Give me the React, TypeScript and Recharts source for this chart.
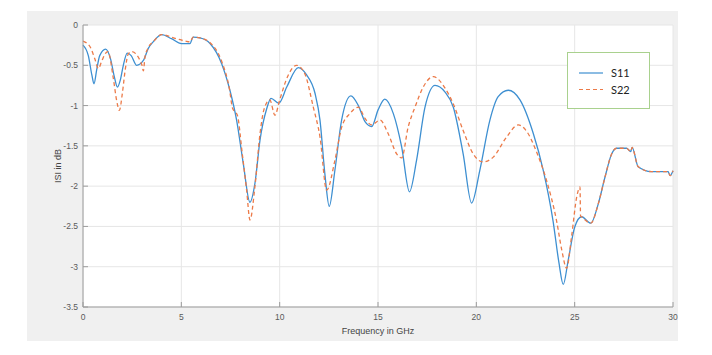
import { LineChart, Line, XAxis, YAxis, CartesianGrid, Legend } from 'recharts';

// S11 trace (frequency GHz / |S| dB)
const s11Freq = [
  0, 0.27, 0.45, 0.56, 0.7, 0.85, 1.15, 1.4, 1.6, 1.75, 1.9, 2.05, 2.25, 2.45, 2.73, 3.07, 3.32, 3.6, 4.0, 4.5,
  5.0, 5.44, 5.6, 5.95, 6.46, 7.05, 7.47, 7.81, 8.15, 8.49, 8.74, 9.0, 9.34, 9.56, 9.96, 10.36, 10.95, 11.37, 11.8,
  12.05, 12.3, 12.52, 12.81, 13.15, 13.62, 14.0, 14.34, 14.68, 15.01, 15.35, 15.78, 16.2, 16.6, 16.96, 17.39, 17.9,
  18.4, 18.83, 19.33, 19.76, 20.18, 20.69, 21.11, 21.62, 22.22, 22.9, 23.4, 23.9, 24.2, 24.42, 24.67, 25.0, 25.35,
  25.82, 26.2, 26.54, 26.88, 27.13, 27.64, 27.85, 27.92, 28.23, 28.9, 29.75, 29.85, 30,
];
const s11Db = [
  -0.25, -0.38, -0.62, -0.73, -0.55, -0.38, -0.3, -0.42, -0.65, -0.77, -0.68, -0.5, -0.35, -0.38, -0.5, -0.44, -0.29, -0.2, -0.12, -0.17,
  -0.23, -0.23, -0.15, -0.16, -0.23, -0.48, -0.81, -1.18, -1.72, -2.2, -1.97, -1.43, -1.04, -0.91, -0.97, -0.77, -0.53, -0.62, -0.85,
  -1.18, -1.85, -2.25, -1.8, -1.18, -0.88, -1.0, -1.2, -1.26, -1.05, -0.92, -1.1, -1.51, -2.07, -1.68, -1.02, -0.75,
  -0.83, -1.02, -1.6, -2.21, -1.8, -1.18, -0.89, -0.81, -0.93, -1.35, -1.8, -2.43, -2.95, -3.22, -2.92, -2.51, -2.38,
  -2.46, -2.22, -1.89, -1.6, -1.53, -1.53, -1.57, -1.52, -1.76, -1.82, -1.82, -1.87, -1.81,
];

// S22 trace
const s22Freq = [
  0, 0.36, 0.6, 0.78, 0.95, 1.12, 1.27, 1.54, 1.72, 1.85, 2.0, 2.15, 2.3, 2.47, 2.9, 3.0, 3.07, 3.15, 3.3, 3.6, 4.0,
  4.74, 5.2, 5.44, 5.6, 5.95, 6.46, 7.05, 7.45, 7.6, 7.85, 8.1, 8.32, 8.49, 8.74, 9.0, 9.2, 9.5, 9.76, 10.0, 10.44,
  10.86, 11.27, 11.71, 12.05, 12.39, 12.81, 13.15, 13.57, 14.0, 14.34, 14.68, 15.1, 15.52, 15.95, 16.2, 16.54, 16.88,
  17.3, 17.81, 18.4, 18.83, 19.33, 19.84, 20.35, 20.86, 21.54, 22.13, 22.56, 23.07, 23.57, 24.08, 24.35, 24.59, 24.84,
  25.1, 25.27, 25.3, 25.35, 25.82, 26.2, 26.54, 26.88, 27.13, 27.64, 27.85, 27.92, 28.23, 28.9, 29.75, 29.85, 30,
];
const s22Db = [
  -0.2, -0.27, -0.42, -0.54, -0.45, -0.36, -0.33, -0.66, -0.95, -1.06, -0.85, -0.55, -0.36, -0.33, -0.44, -0.5, -0.57, -0.4, -0.29, -0.2, -0.12,
  -0.17, -0.2, -0.21, -0.15, -0.16, -0.22, -0.45, -0.8, -1.03, -1.12, -1.6, -2.05, -2.42, -2.01, -1.35, -1.05, -0.93, -1.12, -0.93, -0.62,
  -0.5, -0.6, -1.02, -1.39, -2.05, -1.68, -1.27, -1.1, -1.02, -1.16, -1.24, -1.18, -1.35, -1.6, -1.65, -1.26, -1.02,
  -0.77, -0.64, -0.78, -0.98, -1.31, -1.6, -1.7, -1.64, -1.39, -1.24, -1.32, -1.58, -1.93, -2.43, -2.8, -3.02, -2.63,
  -2.14, -2.01, -2.37, -2.38, -2.46, -2.22, -1.89, -1.6, -1.53, -1.53, -1.57, -1.52, -1.76, -1.82, -1.82, -1.87, -1.81,
];

const xTicks = [0, 5, 10, 15, 20, 25, 30];
const yTicks = [0, -0.5, -1, -1.5, -2, -2.5, -3, -3.5];

const s11Data = s11Freq.map((f, i) => ({ f, v: s11Db[i] }));
const s22Data = s22Freq.map((f, i) => ({ f, v: s22Db[i] }));

const BLUE = '#3d8fd1';
const ORANGE = '#ec7a48';
const AXIS = '#9c9c9c';
const TICK_TEXT = '#5a5a5a';
const FONT = '"Liberation Sans", Arial, sans-serif';

const LeftTick = (props: any) => {
  const { x, y, payload } = props;
  return (
    <g>
      <line x1={x + 5} x2={x + 10} y1={y} y2={y} stroke={AXIS} />
      <text x={x} y={y} dy={3} textAnchor="end" fontSize={8.5} fill={TICK_TEXT} fontFamily={FONT}>
        {payload.value}
      </text>
    </g>
  );
};

const BottomTick = (props: any) => {
  const { x, y, payload } = props;
  return (
    <g>
      <line x1={x} x2={x} y1={y - 7} y2={y - 12} stroke={AXIS} />
      <text x={x} y={y} dy="0.71em" textAnchor="middle" fontSize={8.5} fill={TICK_TEXT} fontFamily={FONT}>
        {payload.value}
      </text>
    </g>
  );
};

const TopTick = (props: any) => {
  const { x, y } = props;
  return <line x1={x} x2={x} y1={y} y2={y + 5} stroke={AXIS} />;
};

const RightTick = (props: any) => {
  const { x, y } = props;
  return <line x1={x - 5} x2={x} y1={y} y2={y} stroke={AXIS} />;
};

const LegendBox = (props: any) => {
  const { payload = [] } = props;
  return (
    <svg width={83} height={57} style={{ display: 'block' }}>
      <rect x={0.5} y={0.5} width={82} height={56} fill="#fff" stroke="#a9d18e" />
      {payload.map((entry: any, i: number) => (
        <g key={entry.value}>
          <line
            x1={12}
            x2={36}
            y1={21 + i * 16.5}
            y2={21 + i * 16.5}
            stroke={entry.color}
            strokeWidth={1.2}
            strokeDasharray={i === 1 ? '4 3' : undefined}
          />
          <text x={44} y={25 + i * 16.5} fontSize={11} fill="#222" fontFamily="Lato, sans-serif">
            {entry.value}
          </text>
        </g>
      ))}
    </svg>
  );
};

export default function App() {
  return (
    <div style={{ position: 'fixed', left: 0, top: 0, width: 712, height: 355, background: '#fff' }}>
      <div style={{ position: 'absolute', left: 27, top: 11, width: 651, height: 330, background: '#f0f0f0' }} />
      <div style={{ position: 'absolute', left: 0, top: 0 }}>
        <LineChart width={712} height={355} margin={{ top: 25, right: 39, bottom: 18, left: 43 }}>
          <CartesianGrid stroke="#e6e6e6" fill="#fff" />
          <XAxis
            dataKey="f"
            type="number"
            domain={[0, 30]}
            ticks={xTicks}
            height={30}
            stroke={AXIS}
            tickLine={false}
            tickSize={0}
            tickMargin={7}
            tick={<BottomTick />}
            label={{ value: 'Frequency in GHz', position: 'insideBottom', offset: 3, fontSize: 9, fill: '#444', fontFamily: FONT }}
          />
          <XAxis
            xAxisId="top"
            orientation="top"
            type="number"
            domain={[0, 30]}
            ticks={xTicks}
            height={0}
            stroke="#bdbdbd"
            strokeWidth={2}
            tickLine={false}
            tickSize={0}
            tickMargin={0}
            tick={<TopTick />}
          />
          <YAxis
            type="number"
            domain={[-3.5, 0]}
            ticks={yTicks}
            width={40}
            stroke={AXIS}
            tickLine={false}
            tickSize={0}
            tickMargin={5}
            tick={<LeftTick />}
            label={{ value: 'ISI in dB', angle: -90, position: 'insideLeft', offset: 15, fontSize: 9, fill: '#444', fontFamily: FONT, style: { textAnchor: 'middle' } }}
          />
          <YAxis
            yAxisId="right"
            orientation="right"
            type="number"
            domain={[-3.5, 0]}
            ticks={yTicks}
            width={0}
            stroke={AXIS}
            tickLine={false}
            tickSize={0}
            tickMargin={0}
            tick={<RightTick />}
          />
          <Legend
            layout="vertical"
            align="center"
            verticalAlign="middle"
            content={<LegendBox />}
            wrapperStyle={{ left: 567, top: 52, width: 83, height: 57 }}
          />
          <Line
            data={s11Data}
            dataKey="v"
            name="S11"
            type="monotone"
            stroke={BLUE}
            strokeWidth={1.3}
            dot={false}
            isAnimationActive={false}
          />
          <Line
            data={s22Data}
            dataKey="v"
            name="S22"
            type="monotone"
            stroke={ORANGE}
            strokeWidth={1.3}
            strokeDasharray="4 3"
            dot={false}
            isAnimationActive={false}
          />
        </LineChart>
      </div>
    </div>
  );
}
